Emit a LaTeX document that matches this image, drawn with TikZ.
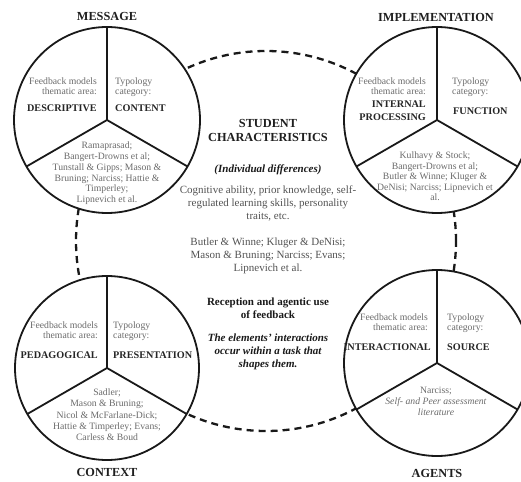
\documentclass[tikz,border=0pt]{standalone}
\usepackage{fontspec}
\setmainfont{Liberation Serif}
\begin{document}
\begin{tikzpicture}[x=1pt,y=-1pt,
  ring/.style={circle, draw=black!90, line width=1.8pt, fill=white, inner sep=0pt, outer sep=0pt, minimum size=#1},
  spoke/.style={draw=black!90, line width=1.8pt},
  dashring/.style={circle, draw=black!90, line width=2.3pt, dash pattern=on 7pt off 5pt, inner sep=0pt, minimum size=380pt},
  greytext/.style={text=black!58, font=\fontsize{9.7}{10.7}\selectfont, inner sep=0pt},
  lab/.style={text=black!85, font=\bfseries\fontsize{10.2}{13}\selectfont, inner sep=0pt},
  head/.style={text=black!88, font=\bfseries\fontsize{12.3}{14}\selectfont, inner sep=0pt},
  midtext/.style={text=black!68, font=\fontsize{11}{13}\selectfont, inner sep=0pt, align=center, anchor=north},
  midbold/.style={text=black!90, font=\bfseries\fontsize{11}{13}\selectfont, inner sep=0pt, align=center, anchor=north},
  midbi/.style={text=black!90, font=\bfseries\itshape\fontsize{11}{13}\selectfont, inner sep=0pt, align=center, anchor=north}
]
\useasboundingbox (0,0) rectangle (521,481);

% dashed linking ring
\node[dashring] (link) at (266,241) {};

% four circles
\node[ring=186pt] (msg) at (107,120) {};
\node[ring=186pt] (imp) at (437,120) {};
\node[ring=184pt] (ctx) at (107,368) {};
\node[ring=186pt] (agt) at (437,363) {};

\foreach \c in {msg,imp,ctx,agt}{
  \draw[spoke] (\c.center) -- (\c.north);
  \draw[spoke] (\c.center) -- (\c.210);
  \draw[spoke] (\c.center) -- (\c.330);
}

% headings
\node[head, anchor=north] (hmsg) at (107,12.5) {MESSAGE};
\node[head, anchor=north] (himp) at (436,13) {IMPLEMENTATION};
\node[head, anchor=north] (hctx) at (107,468.5) {CONTEXT};
\node[head, anchor=north] (hagt) at (437,469) {AGENTS};

% MESSAGE circle
\node[greytext, align=right, anchor=north east] (msgA) at (97,77.3) {Feedback models\\thematic area:};
\node[greytext, align=left, anchor=north west] (msgB) at (115,77.3) {Typology\\category:};
\node[lab, anchor=north east] (msgC) at (97,104.2) {DESCRIPTIVE};
\node[lab, anchor=north west] (msgD) at (115,104.2) {CONTENT};
\node[greytext, align=center, anchor=north] (msgE) at (107,142) {Ramaprasad;\\Bangert-Drowns et al;\\Tunstall \& Gipps; Mason \&\\Bruning; Narciss; Hattie \&\\Timperley;\\Lipnevich et al.};

% IMPLEMENTATION circle
\node[greytext, align=right, anchor=north east] (impA) at (426,77.3) {Feedback models\\thematic area:};
\node[greytext, align=left, anchor=north west] (impB) at (452,77.3) {Typology\\category:};
\node[lab, align=right, anchor=north east] (impC) at (426,100.2) {INTERNAL\\PROCESSING};
\node[lab, anchor=north west] (impD) at (453,107.2) {FUNCTION};
\node[greytext, align=center, anchor=north, font=\fontsize{9.7}{10.5}\selectfont] (impE) at (435,151.8) {Kulhavy \& Stock;\\Bangert-Drowns et al;\\Butler \& Winne; Kluger \&\\DeNisi; Narciss; Lipnevich et\\al.};

% CONTEXT circle
\node[greytext, align=right, anchor=north east] (ctxA) at (98,321.3) {Feedback models\\thematic area:};
\node[greytext, align=left, anchor=north west] (ctxB) at (113,321.3) {Typology\\category:};
\node[lab, anchor=north east] (ctxC) at (98,351.2) {PEDAGOGICAL};
\node[lab, anchor=north west] (ctxD) at (113,351.2) {PRESENTATION};
\node[greytext, align=center, anchor=north, font=\fontsize{9.7}{11.2}\selectfont] (ctxE) at (107,388.8) {Sadler;\\Mason \& Bruning;\\Nicol \& McFarlane-Dick;\\Hattie \& Timperley; Evans;\\Carless \& Boud};

% AGENTS circle
\node[greytext, align=right, anchor=north east] (agtA) at (428,313.3) {Feedback models\\thematic area:};
\node[greytext, align=left, anchor=north west] (agtB) at (447,313.3) {Typology\\category:};
\node[lab, anchor=north east] (agtC) at (431,343.2) {INTERACTIONAL};
\node[lab, anchor=north west] (agtD) at (447,343.2) {SOURCE};
\node[greytext, align=center, anchor=north, font=\fontsize{9.7}{11}\selectfont] (agtE) at (436,386.8) {Narciss;\\\textit{Self- and Peer assessment}\\\textit{literature}};

% centre text
\node[head, align=center, anchor=north, font=\bfseries\fontsize{12.3}{14.5}\selectfont] (mid1) at (268,119) {STUDENT\\CHARACTERISTICS};
\node[midbi] (mid2) at (268,165) {(Individual differences)};
\node[midtext] (mid3) at (268,186) {Cognitive ability, prior knowledge, self-\\regulated learning skills, personality\\traits, etc.};
\node[midtext] (mid4) at (268,238) {Butler \& Winne; Kluger \& DeNisi;\\Mason \& Bruning; Narciss; Evans;\\Lipnevich et al.};
\node[midbold] (mid5) at (268,298) {Reception and agentic use\\of feedback};
\node[midbi] (mid6) at (268,334) {The elements' interactions\\occur within a task that\\shapes them.};
\end{tikzpicture}
\end{document}
